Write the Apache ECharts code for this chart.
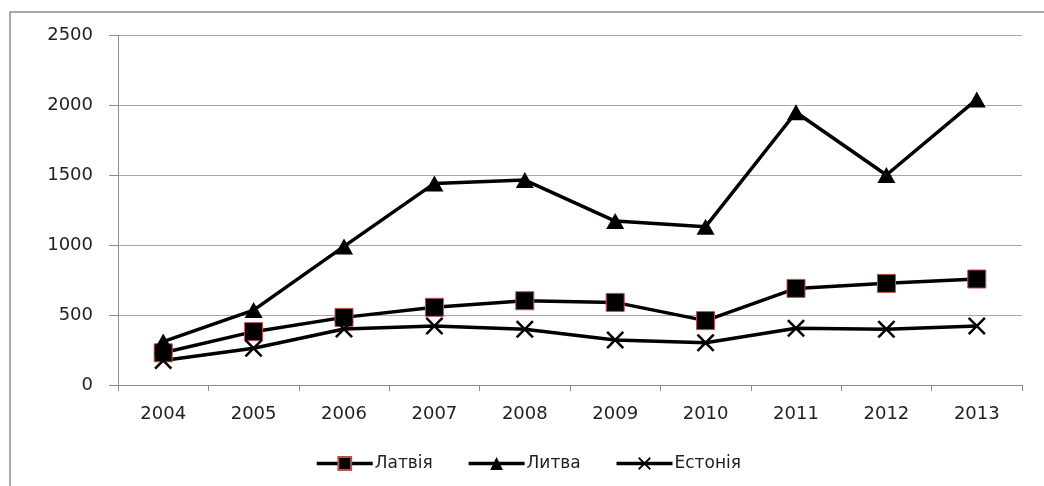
<!DOCTYPE html>
<html>
<head>
<meta charset="utf-8">
<script src="https://cdn.jsdelivr.net/npm/echarts@6/dist/echarts.min.js"></script>
<style>
  html, body { margin: 0; padding: 0; background: #fff; }
  #chart { width: 1044px; height: 486px; }
</style>
</head>
<body>
<div id="chart"></div>
<script>
const years = ['2004', '2005', '2006', '2007', '2008', '2009', '2010', '2011', '2012', '2013'];
const latvia = [230, 381, 483, 555, 602, 590, 460, 690, 726, 757];
const lithuania = [310, 535, 990, 1440, 1464, 1171, 1131, 1948, 1500, 2040];
const estonia = [175, 262, 400, 421, 398, 321, 302, 405, 398, 421];
const yTicks = { min: 0, max: 2500, step: 500 };

const crossPath = 'path://M2,0L10,8L18,0L20,2L12,10L20,18L18,20L10,12L2,20L0,18L8,10L0,2Z';
const font = 'DejaVu Sans';

const chart = echarts.init(document.getElementById('chart'));
chart.setOption({
  animation: false,
  backgroundColor: '#fff',
  graphic: [{
    type: 'rect',
    shape: { x: 10, y: 12, width: 1100, height: 600 },
    style: { fill: 'none', stroke: '#8c8c8c', lineWidth: 1.5 },
    silent: true
  }],
  grid: { left: 118, right: 22, top: 35, bottom: 101 },
  legend: {
    bottom: 9,
    left: 310,
    itemWidth: 56,
    itemHeight: 16,
    itemGap: 34,
    lineStyle: { width: 3.5, color: '#000' },
    textStyle: { fontFamily: font, fontSize: 17, color: '#222', padding: [0, 0, 0, -3] },
    data: ['Латвія', 'Литва', 'Естонія']
  },
  xAxis: {
    type: 'category',
    data: years,
    boundaryGap: true,
    axisLine: { lineStyle: { color: '#8c8c8c', width: 1 } },
    axisTick: { show: true, length: 6, lineStyle: { color: '#8c8c8c' } },
    axisLabel: { fontFamily: font, fontSize: 18, color: '#222', margin: 20 },
    splitLine: { show: false }
  },
  yAxis: {
    type: 'value',
    min: yTicks.min,
    max: yTicks.max,
    interval: yTicks.step,
    axisLine: { show: true, lineStyle: { color: '#8c8c8c', width: 1 } },
    axisTick: { show: true, length: 9, lineStyle: { color: '#8c8c8c' } },
    axisLabel: { fontFamily: font, fontSize: 18, color: '#222', margin: 25, formatter: v => String(v) },
    splitLine: { show: true, lineStyle: { color: '#a6a6a6', width: 1 } }
  },
  series: [{
    name: 'Латвія',
    type: 'line',
    data: latvia,
    symbol: 'rect',
    symbolSize: 18,
    showAllSymbol: true,
    lineStyle: { color: '#000', width: 3.5 },
    itemStyle: { color: '#000', borderColor: '#c0504d', borderWidth: 1 }
  }, {
    name: 'Литва',
    type: 'line',
    data: lithuania,
    symbol: 'triangle',
    symbolSize: [18, 16],
    showAllSymbol: true,
    lineStyle: { color: '#000', width: 3.5 },
    itemStyle: { color: '#000' }
  }, {
    name: 'Естонія',
    type: 'line',
    data: estonia,
    symbol: crossPath,
    symbolSize: 18,
    showAllSymbol: true,
    lineStyle: { color: '#000', width: 3.5 },
    itemStyle: { color: '#000' }
  }]
});
</script>
</body>
</html>
